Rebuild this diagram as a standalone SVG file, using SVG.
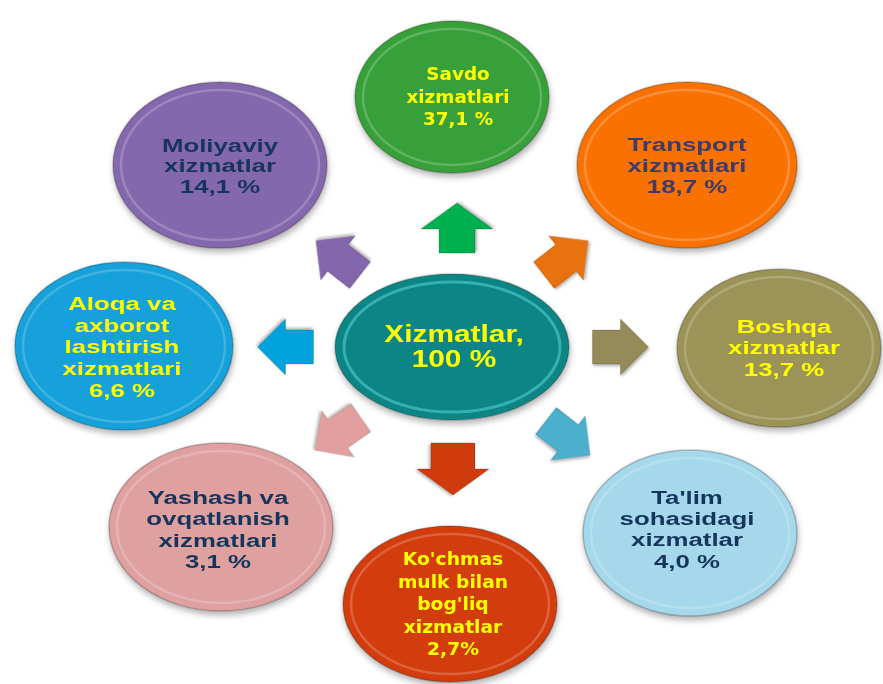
<svg xmlns="http://www.w3.org/2000/svg" width="883" height="684" viewBox="0 0 883 684">
<defs>
<filter id="sh" x="-20%" y="-20%" width="140%" height="150%">
<feDropShadow dx="1" dy="4" stdDeviation="3" flood-color="#000" flood-opacity="0.3"/>
</filter>
<filter id="ash" x="-30%" y="-30%" width="160%" height="160%">
<feDropShadow dx="1" dy="2" stdDeviation="1.5" flood-color="#000" flood-opacity="0.3"/>
</filter>
<path id="arr" d="M-28,-17 H0 V-28 L28,0 L0,28 V17 H-28 Z"/>
</defs>
<style>
.node{filter:url(#sh)}
.outer{stroke:rgba(0,0,0,0.22);stroke-width:1.5}
.inner{fill:none;stroke:rgba(255,255,255,0.2);stroke-width:2.5}
.t{font-family:"Liberation Sans",Arial,sans-serif;font-weight:bold;font-size:19px;text-anchor:middle}
.d{font-family:"DejaVu Sans",Verdana,sans-serif;font-weight:bold;font-size:17px;text-anchor:middle}
.y{fill:#ffff00}
.n{fill:#17365d}
.p{fill:#3d3a6b}
.a{filter:url(#ash);stroke:rgba(0,0,0,0.15);stroke-width:1}
</style>
<rect width="883" height="684" fill="#ffffff"/>

<g id="connectors">
<path class="a" d="M-25,-18 H-1 V-36 L25,0 L-1,36 V18 H-25 Z" transform="translate(457,228) rotate(-90)" fill="#00b050"/>
<use class="a" href="#arr" transform="translate(566,258) rotate(-38)" fill="#e8720c"/>
<use class="a" href="#arr" transform="translate(620.5,347)" fill="#958b58"/>
<use class="a" href="#arr" transform="translate(568,438) rotate(38)" fill="#4bb0cc"/>
<path class="a" d="M-26,-22 H0 V-36 L26,0 L0,36 V22 H-26 Z" transform="translate(453,469) rotate(90)" fill="#d03a0a"/>
<use class="a" href="#arr" transform="translate(338,434) rotate(145)" fill="#e39e9e"/>
<use class="a" href="#arr" transform="translate(285.5,347) rotate(180)" fill="#00a3db"/>
<use class="a" href="#arr" transform="translate(338,258) rotate(-142)" fill="#8466ac"/>
</g>

<g id="center" class="node">
<ellipse class="outer" cx="452" cy="347" rx="117" ry="73" fill="#0a8585"/>
<ellipse cx="452" cy="347" rx="108" ry="65" fill="none" stroke="#5fdcdc" stroke-width="3" stroke-opacity="0.5"/>
<g transform="translate(454,0) scale(1.3,1)">
<text class="t y" style="font-size:23px" x="0" y="342">Xizmatlar,</text>
<text class="t y" style="font-size:23px" x="0" y="367">100 %</text>
</g>
</g>

<g id="savdo" class="node">
<ellipse class="outer" cx="452" cy="97" rx="97" ry="76" fill="#39a03a"/>
<ellipse class="inner" cx="452" cy="97" rx="89" ry="68"/>
<g transform="translate(458,0) scale(1.08,1)">
<text class="d y" x="0" y="80">Savdo</text>
<text class="d y" x="0" y="103">xizmatlari</text>
<text class="d y" x="0" y="125">37,1 %</text>
</g>
</g>

<g id="moliyaviy" class="node">
<ellipse class="outer" cx="220" cy="165" rx="107" ry="83" fill="#8468ad"/>
<ellipse class="inner" cx="220" cy="165" rx="99" ry="75"/>
<g transform="translate(220,0) scale(1.36,1)">
<text class="t n" x="0" y="152">Moliyaviy</text>
<text class="t n" x="0" y="172">xizmatlar</text>
<text class="t n" x="0" y="193">14,1 %</text>
</g>
</g>

<g id="transport" class="node">
<ellipse class="outer" cx="687" cy="165" rx="110" ry="83" fill="#f97206"/>
<ellipse class="inner" cx="687" cy="165" rx="102" ry="75"/>
<g transform="translate(687,0) scale(1.36,1)">
<text class="t p" x="0" y="151">Transport</text>
<text class="t p" x="0" y="172">xizmatlari</text>
<text class="t p" x="0" y="193">18,7 %</text>
</g>
</g>

<g id="aloqa" class="node">
<ellipse class="outer" cx="124" cy="346" rx="109" ry="84" fill="#13a1da"/>
<ellipse class="inner" cx="124" cy="346" rx="101" ry="76"/>
<g transform="translate(122,0) scale(1.36,1)">
<text class="t y" x="0" y="310">Aloqa va</text>
<text class="t y" x="0" y="332">axborot</text>
<text class="t y" x="0" y="353">lashtirish</text>
<text class="t y" x="0" y="375">xizmatlari</text>
<text class="t y" x="0" y="397">6,6 %</text>
</g>
</g>

<g id="boshqa" class="node">
<ellipse class="outer" cx="779" cy="348" rx="102" ry="79" fill="#9b9358"/>
<ellipse class="inner" cx="779" cy="348" rx="94" ry="71"/>
<g transform="translate(784,0) scale(1.36,1)">
<text class="t y" x="0" y="333">Boshqa</text>
<text class="t y" x="0" y="354">xizmatlar</text>
<text class="t y" x="0" y="376">13,7 %</text>
</g>
</g>

<g id="yashash" class="node">
<ellipse class="outer" cx="221" cy="527" rx="112" ry="84" fill="#dfa0a0"/>
<ellipse class="inner" cx="221" cy="527" rx="104" ry="76"/>
<g transform="translate(218,0) scale(1.36,1)">
<text class="t n" x="0" y="504">Yashash va</text>
<text class="t n" x="0" y="525">ovqatlanish</text>
<text class="t n" x="0" y="547">xizmatlari</text>
<text class="t n" x="0" y="568">3,1 %</text>
</g>
</g>

<g id="talim" class="node">
<ellipse class="outer" cx="690" cy="533" rx="107" ry="83" fill="#a4d8ea"/>
<ellipse class="inner" cx="690" cy="533" rx="99" ry="75"/>
<g transform="translate(687,0) scale(1.36,1)">
<text class="t n" x="0" y="504">Ta'lim</text>
<text class="t n" x="0" y="525">sohasidagi</text>
<text class="t n" x="0" y="546">xizmatlar</text>
<text class="t n" x="0" y="568">4,0 %</text>
</g>
</g>

<g id="kochmas" class="node">
<ellipse class="outer" cx="450" cy="604" rx="107" ry="78" fill="#d33d0c"/>
<ellipse class="inner" cx="450" cy="604" rx="99" ry="70"/>
<g transform="translate(453,0) scale(1.1,1)">
<text class="d y" x="0" y="565">Ko'chmas</text>
<text class="d y" x="0" y="588">mulk bilan</text>
<text class="d y" x="0" y="610">bog'liq</text>
<text class="d y" x="0" y="633">xizmatlar</text>
<text class="d y" x="0" y="655">2,7%</text>
</g>
</g>
</svg>
